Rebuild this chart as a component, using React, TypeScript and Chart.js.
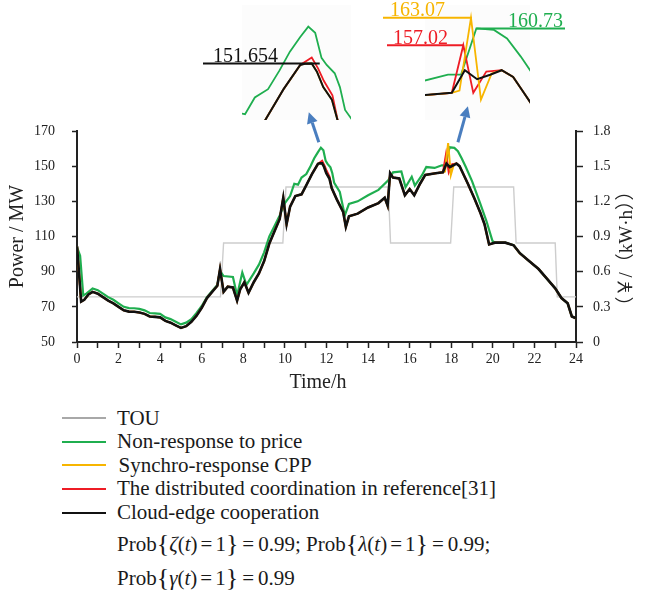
import React, { useEffect, useRef } from "react";
import { Chart, registerables } from "chart.js";

Chart.register(...registerables);

// ---------------- data ----------------
// Cloud-edge cooperation (black)
const cloudTimes = [0, 0.2, 0.35, 0.55, 0.75, 1, 1.25, 1.5, 1.75, 2, 2.25, 2.5, 2.75, 3, 3.25, 3.5, 3.75, 4, 4.25, 4.5, 4.75, 5, 5.25, 5.5, 5.75, 6, 6.25, 6.5, 6.75, 6.88, 7.05, 7.25, 7.5, 7.7, 7.85, 8.05, 8.25, 8.5, 8.75, 9, 9.25, 9.5, 9.75, 9.92, 10.08, 10.25, 10.5, 10.8, 11, 11.3, 11.59, 11.67, 11.79, 11.88, 11.99, 12.14, 12.25, 12.5, 12.8, 12.93, 13.08, 13.5, 14, 14.5, 14.8, 14.94, 15.06, 15.2, 15.5, 15.77, 16, 16.22, 16.5, 16.75, 17.25, 17.6, 17.77, 17.93, 18.1, 18.25, 18.4, 18.5, 18.8, 19.1, 19.4, 19.6, 19.82, 20.1, 20.6, 21, 21.3, 21.8, 22.2, 22.6, 23, 23.3, 23.6, 23.8, 24];
const cloudLoad = [104.5, 73, 74, 77, 78.5, 77.5, 75.5, 73.5, 72, 70, 68, 67.3, 67.2, 66.8, 66, 64.5, 64.3, 64, 62, 61, 59.5, 58, 59, 61.5, 65, 69.5, 75, 78.5, 82, 91.5, 78.5, 81.5, 81, 73.5, 80, 84, 78, 84, 89, 96, 106, 113, 120, 132, 117, 127, 133, 134, 138.5, 145.5, 151.3, 151.6, 151.654, 149.7, 146, 143, 137.5, 131, 124, 115.5, 121.5, 123, 126.5, 129, 132, 127.5, 146, 143.5, 143, 133.5, 137, 133.5, 140, 145, 146, 146.5, 151.5, 149.5, 150.5, 151.5, 150, 147.5, 140, 132, 123.5, 117, 105.5, 106.5, 106.5, 105, 100.5, 95.5, 91.5, 86, 80.5, 75, 72, 64.5, 63.5];

// Non-response to price (green)
const nonRespTimes = [0, 0.15, 0.3, 0.45, 0.75, 1, 1.25, 1.5, 1.75, 2, 2.25, 2.5, 2.75, 3, 3.25, 3.5, 3.75, 4, 4.25, 4.5, 4.75, 5, 5.25, 5.5, 5.75, 6, 6.25, 6.5, 6.75, 6.88, 7.05, 7.5, 7.7, 7.95, 8.15, 8.5, 8.75, 9, 9.25, 9.5, 9.75, 10, 10.25, 10.45, 10.63, 10.8, 11.03, 11.23, 11.41, 11.59, 11.73, 11.85, 11.96, 12.05, 12.19, 12.28, 12.37, 12.64, 12.88, 13.08, 13.5, 14, 14.5, 14.97, 15.2, 15.6, 15.8, 16.1, 16.25, 16.6, 16.8, 17.2, 17.55, 17.72, 17.92, 18.15, 18.32, 18.5, 18.7, 19, 19.4, 19.7, 19.98, 20.1, 20.6, 21, 21.3, 21.8, 22.2, 22.6, 23, 23.3, 23.6, 23.8, 24];
const nonRespLoad = [104, 99, 76.5, 77.5, 80.5, 79.5, 77.5, 75.5, 74, 72, 70, 69.3, 69.2, 68.8, 68, 66.5, 66.3, 66, 64, 63, 61.5, 60, 61, 63, 66.5, 70.5, 75.5, 79, 82.5, 90.5, 87.5, 87, 76.5, 89.5, 82.5, 89, 94, 101, 110, 116, 122, 129, 133, 140, 139.5, 143.5, 145.5, 150, 154.5, 158, 160.5, 159, 153, 151.3, 149.3, 146, 140.5, 135.3, 122, 128.5, 130, 133.5, 136.5, 142, 146.5, 147, 138, 144, 139, 145, 149.5, 149, 150.5, 150.5, 160.73, 160.4, 158.5, 154.5, 149.5, 141.5, 128.5, 118.5, 107.5, 106.5, 106.5, 105, 100.5, 95.5, 91.5, 86, 80.5, 75, 72, 64.5, 63.5];

// Synchro-response CPP (yellow): where it departs from the black curve
const cppEveTimes = [17.6, 17.7, 17.85, 17.98, 18.12, 18.25];
const cppEveLoad = [146.5, 147, 163.07, 145, 150.8, 151.5];

// Distributed coordination in reference[31] (red): where it departs from the black curve
const distNoonTimes = [11.59, 11.79, 11.9, 12.0, 12.15, 12.25];
const distNoonLoad = [151.3, 153.1, 150.5, 147.5, 144, 137.5];
const distEveTimes = [17.6, 17.75, 17.88, 18.05, 18.25];
const distEveLoad = [146.5, 157.02, 146.5, 151.2, 151.5];

// TOU price (gray, right axis)
const touTimes = [0, 6.9, 7.05, 9.9, 10.05, 14.97, 15.08, 17.97, 18.12, 21.0, 21.12, 23.0, 23.1, 24];
const touPrice = [0.385, 0.385, 0.845, 0.845, 1.322, 1.322, 0.845, 0.845, 1.322, 1.322, 0.845, 0.845, 0.385, 0.385];

// axes
const hourTicks = [0, 24];
const powerRange = [50, 170];
const powerStep = 20;
const priceRange = [0, 1.8];
const priceStep = 0.3;

// inset peak labels
const noonBlackPeak = 151.654;
const eveCppPeak = 163.07;
const eveGreenPeak = 160.73;
const eveRedPeak = 157.02;

// ---------------- helpers ----------------
type P = { x: number; y: number };
const pts = (t: number[], v: number[]): P[] => t.map((x, i) => ({ x, y: v[i] }));
function overlay(baseT: number[], baseV: number[], windows: [number[], number[]][]): P[] {
  let out = pts(baseT, baseV);
  for (const [wt, wv] of windows) {
    const a = wt[0];
    const b = wt[wt.length - 1];
    out = out.filter((p) => p.x < a || p.x > b).concat(pts(wt, wv));
  }
  return out.sort((p, q) => p.x - q.x);
}

const COLORS = {
  tou: "#cdcdcd",
  touLegend: "#a8a8a8",
  green: "#1fae4f",
  yellow: "#f7b500",
  red: "#ee1c25",
  black: "#111111",
  arrow: "#4a7ebf",
};

const SERIF = '"Liberation Serif", "Times New Roman", serif';

function buildSeries() {
  return {
    cloud: pts(cloudTimes, cloudLoad),
    green: pts(nonRespTimes, nonRespLoad),
    cpp: overlay(cloudTimes, cloudLoad, [[cppEveTimes, cppEveLoad]]),
    dist: overlay(cloudTimes, cloudLoad, [
      [distNoonTimes, distNoonLoad],
      [distEveTimes, distEveLoad],
    ]),
    tou: pts(touTimes, touPrice),
  };
}

function lineDs(label: string, data: P[], color: string, width: number, extra: any = {}) {
  return {
    label,
    data,
    borderColor: color,
    backgroundColor: color,
    borderWidth: width,
    pointRadius: 0,
    tension: 0,
    fill: false,
    ...extra,
  };
}

// ---------------- main chart ----------------
function MainChart() {
  const ref = useRef<HTMLCanvasElement>(null);
  useEffect(() => {
    const s = buildSeries();
    const arrowPlugin = {
      id: "arrows",
      afterDatasetsDraw(chart: any) {
        const { ctx, scales } = chart;
        const x = scales.x;
        const y = scales.y;
        const arrows = [
          { t: 11.63, v: 163.6, dx: -10, dy: -30 },
          { t: 18.32, v: 163.6, dx: 10, dy: -36 },
        ];
        ctx.save();
        for (const a of arrows) {
          const x0 = x.getPixelForValue(a.t);
          const y0 = y.getPixelForValue(a.v);
          const x1 = x0 + a.dx;
          const y1 = y0 + a.dy;
          const len = Math.hypot(a.dx, a.dy);
          const ux = a.dx / len;
          const uy = a.dy / len;
          const head = 11;
          const hw = 5.5;
          const bx = x1 - ux * head;
          const by = y1 - uy * head;
          ctx.strokeStyle = COLORS.arrow;
          ctx.fillStyle = COLORS.arrow;
          ctx.lineWidth = 3;
          ctx.beginPath();
          ctx.moveTo(x0, y0);
          ctx.lineTo(bx, by);
          ctx.stroke();
          ctx.beginPath();
          ctx.moveTo(x1, y1);
          ctx.lineTo(bx - uy * hw, by + ux * hw);
          ctx.lineTo(bx + uy * hw, by - ux * hw);
          ctx.closePath();
          ctx.fill();
        }
        ctx.restore();
      },
      afterDraw(chart: any) {
        const { ctx, chartArea } = chart;
        ctx.save();
        // right axis title, reading bottom-to-top like the left one
        ctx.translate(627, (chartArea.top + chartArea.bottom) / 2 + 12);
        ctx.rotate(-Math.PI / 2);
        ctx.fillStyle = "#222";
        ctx.font = `19px "Liberation Serif", "Noto Sans CJK SC", serif`;
        ctx.textAlign = "center";
        ctx.textBaseline = "middle";
        ctx.fillText("（￥/（kW·h））", 0, 0);
        ctx.restore();
        // x axis title
        ctx.save();
        ctx.fillStyle = "#222";
        ctx.font = `20px ${SERIF}`;
        ctx.textAlign = "center";
        ctx.textBaseline = "middle";
        ctx.fillText("Time/h", 318, 383);
        ctx.restore();
      },
    };

    const tickFont = { family: SERIF, size: 14 };
    const titleFont = { family: SERIF, size: 20 };
    const chart = new Chart(ref.current!, {
      type: "line",
      data: {
        datasets: [
          lineDs("Cloud-edge cooperation", s.cloud, COLORS.black, 2.6, { yAxisID: "y" }),
          lineDs("Synchro-response CPP", s.cpp, COLORS.yellow, 2, { yAxisID: "y" }),
          lineDs("The distributed coordination in reference[31]", s.dist, COLORS.red, 2, { yAxisID: "y" }),
          lineDs("Non-response to price", s.green, COLORS.green, 2.2, { yAxisID: "y" }),
          lineDs("TOU", s.tou, COLORS.tou, 1.4, { yAxisID: "y1" }),
        ] as any,
      },
      options: {
        animation: false,
        responsive: false,
        maintainAspectRatio: false,
        layout: { padding: { top: 131, left: 0, right: 0, bottom: 0 } },
        plugins: { legend: { display: false }, tooltip: { enabled: false } },
        scales: {
          x: {
            type: "linear",
            min: hourTicks[0],
            max: hourTicks[1],
            ticks: {
              stepSize: 1,
              autoSkip: false,
              maxRotation: 0,
              padding: 3,
              color: "#222",
              font: tickFont,
              callback: (v: any) => (Number(v) % 2 === 0 ? String(v) : ""),
            },
            grid: { drawOnChartArea: false, drawTicks: true, tickLength: 6, tickColor: "#222", tickWidth: 1.5 },
            border: { display: true, color: "#222", width: 2 },
            title: { display: false },
            afterFit: (sc: any) => {
              sc.height = 58;
            },
          },
          y: {
            type: "linear",
            position: "left",
            min: powerRange[0],
            max: powerRange[1],
            ticks: { stepSize: powerStep, padding: 17, color: "#222", font: tickFont },
            grid: { drawOnChartArea: false, drawTicks: true, tickLength: 5, tickColor: "#222", tickWidth: 1.5 },
            border: { display: true, color: "#222", width: 2 },
            title: { display: true, text: "Power / MW", color: "#222", font: titleFont, padding: { top: 6, bottom: 0 } },
            afterFit: (sc: any) => {
              sc.width = 77;
            },
          },
          y1: {
            type: "linear",
            position: "right",
            min: priceRange[0],
            max: priceRange[1],
            ticks: {
              stepSize: priceStep,
              padding: 10,
              color: "#222",
              font: tickFont,
              callback: (v: any) => (Number(v) === 0 ? "0" : Number(v).toFixed(1)),
            },
            grid: { drawOnChartArea: false, drawTicks: true, tickLength: 7, tickColor: "#222", tickWidth: 1.5 },
            border: { display: true, color: "#222", width: 2 },
            title: { display: false },
            afterFit: (sc: any) => {
              sc.width = 69;
            },
          },
        },
      } as any,
      plugins: [arrowPlugin],
    });
    return () => chart.destroy();
  }, []);
  return (
    <canvas
      ref={ref}
      width={645}
      height={400}
      style={{ position: "absolute", left: 0, top: 0, width: 645, height: 400, zIndex: 2 }}
    />
  );
}

// ---------------- insets ----------------
type Note = { value: number; color: string; from: number; toTime: number; overshoot: number; labelX: number; label: string };

function Inset(props: {
  left: number;
  top: number;
  width: number;
  height: number;
  pad: { left: number; right: number; top: number; bottom: number };
  xr: [number, number];
  yr: [number, number];
  notes: Note[];
}) {
  const ref = useRef<HTMLCanvasElement>(null);
  useEffect(() => {
    const s = buildSeries();
    const bgPlugin = {
      id: "insetbg",
      beforeDatasetsDraw(chart: any) {
        const { ctx, chartArea } = chart;
        ctx.save();
        ctx.fillStyle = "rgba(0,0,0,0.012)";
        ctx.fillRect(chartArea.left, chartArea.top, chartArea.right - chartArea.left, chartArea.bottom - chartArea.top);
        ctx.restore();
      },
      afterDatasetsDraw(chart: any) {
        const { ctx, scales } = chart;
        ctx.save();
        for (const n of props.notes) {
          const yy = scales.y.getPixelForValue(n.value);
          const xp = scales.x.getPixelForValue(n.toTime) + n.overshoot;
          const xs = n.from - props.left;
          ctx.strokeStyle = n.color;
          ctx.lineWidth = 2;
          ctx.beginPath();
          ctx.moveTo(xs, yy);
          ctx.lineTo(xp, yy);
          ctx.stroke();
          ctx.fillStyle = n.color;
          ctx.font = `20px ${SERIF}`;
          ctx.textBaseline = "alphabetic";
          ctx.textAlign = "left";
          ctx.fillText(n.label, n.labelX - props.left, yy - 1.5);
        }
        ctx.restore();
      },
    };
    const chart = new Chart(ref.current!, {
      type: "line",
      data: {
        datasets: [
          lineDs("Cloud-edge cooperation", s.cloud, COLORS.black, 2),
          lineDs("Synchro-response CPP", s.cpp, COLORS.yellow, 1.8),
          lineDs("The distributed coordination in reference[31]", s.dist, COLORS.red, 1.8),
          lineDs("Non-response to price", s.green, COLORS.green, 1.8),
        ] as any,
      },
      options: {
        animation: false,
        responsive: false,
        maintainAspectRatio: false,
        layout: { padding: props.pad },
        plugins: { legend: { display: false }, tooltip: { enabled: false } },
        scales: {
          x: { type: "linear", display: false, min: props.xr[0], max: props.xr[1] },
          y: { type: "linear", display: false, min: props.yr[0], max: props.yr[1] },
        },
      } as any,
      plugins: [bgPlugin],
    });
    return () => chart.destroy();
  }, []);
  return (
    <canvas
      ref={ref}
      width={props.width}
      height={props.height}
      style={{ position: "absolute", left: props.left, top: props.top, width: props.width, height: props.height, zIndex: 1 }}
    />
  );
}

// ---------------- legend ----------------
const legendItems = [
  { label: "TOU", color: COLORS.touLegend, y: 418, tx: 117 },
  { label: "Non-response to price", color: COLORS.green, y: 441.5, tx: 117 },
  { label: "Synchro-response CPP", color: COLORS.yellow, y: 465, tx: 118.5 },
  { label: "The distributed coordination in reference[31]", color: COLORS.red, y: 488.5, tx: 117 },
  { label: "Cloud-edge cooperation", color: COLORS.black, y: 512.5, tx: 117 },
];

const Br = ({ c }: { c: string }) => (
  <span style={{ fontSize: 26, lineHeight: "20px", position: "relative", top: 1 }}>{c}</span>
);

function Prob({ sym }: { sym: string }) {
  return (
    <>
      Prob
      <Br c="{" />
      <i>{sym}</i>(<i>t</i>)<span style={{ margin: "0 3px" }}>=</span>1
      <Br c="}" />
      <span style={{ margin: "0 4px" }}>=</span>0.99
    </>
  );
}

export default function App() {
  return (
    <div
      style={{
        position: "fixed",
        left: 0,
        top: 0,
        width: 645,
        height: 594,
        background: "#fff",
        fontFamily: SERIF,
        color: "#1a1a1a",
        overflow: "hidden",
      }}
    >
      <Inset
        left={200}
        top={0}
        width={155}
        height={124}
        pad={{ left: 42, right: 4, top: 5, bottom: 4 }}
        xr={[10.577, 12.473]}
        yr={[138.1, 165.68]}
        notes={[
          { value: noonBlackPeak, color: COLORS.black, from: 203, toTime: 11.79, overshoot: 8, labelX: 213, label: String(noonBlackPeak) },
        ]}
      />
      <Inset
        left={378}
        top={0}
        width={192}
        height={124}
        pad={{ left: 47, right: 40, top: 5, bottom: 4 }}
        xr={[17.25, 18.62]}
        yr={[140.5, 165.9]}
        notes={[
          { value: eveCppPeak, color: COLORS.yellow, from: 383, toTime: 17.85, overshoot: 1, labelX: 390, label: String(eveCppPeak) },
          { value: eveRedPeak, color: COLORS.red, from: 387, toTime: 17.75, overshoot: 0, labelX: 393, label: String(eveRedPeak) },
          { value: eveGreenPeak, color: COLORS.green, from: 565, toTime: 17.92, overshoot: 0, labelX: 508, label: String(eveGreenPeak) },
        ]}
      />
      <MainChart />
      {legendItems.map((it) => (
        <React.Fragment key={it.label}>
          <div
            style={{
              position: "absolute",
              left: 62,
              top: it.y - 1,
              width: 44,
              height: 2,
              background: it.color,
            }}
          />
          <div
            style={{
              position: "absolute",
              left: it.tx,
              top: it.y - 10.5,
              fontSize: 21,
              lineHeight: "21px",
              whiteSpace: "nowrap",
            }}
          >
            {it.label}
          </div>
        </React.Fragment>
      ))}
      <div style={{ position: "absolute", left: 117, top: 543 - 10.5, fontSize: 21, lineHeight: "21px", whiteSpace: "nowrap" }}>
        <Prob sym="ζ" />; <Prob sym="λ" />;
      </div>
      <div style={{ position: "absolute", left: 117, top: 577 - 10.5, fontSize: 21, lineHeight: "21px", whiteSpace: "nowrap" }}>
        <Prob sym="γ" />
      </div>
    </div>
  );
}
